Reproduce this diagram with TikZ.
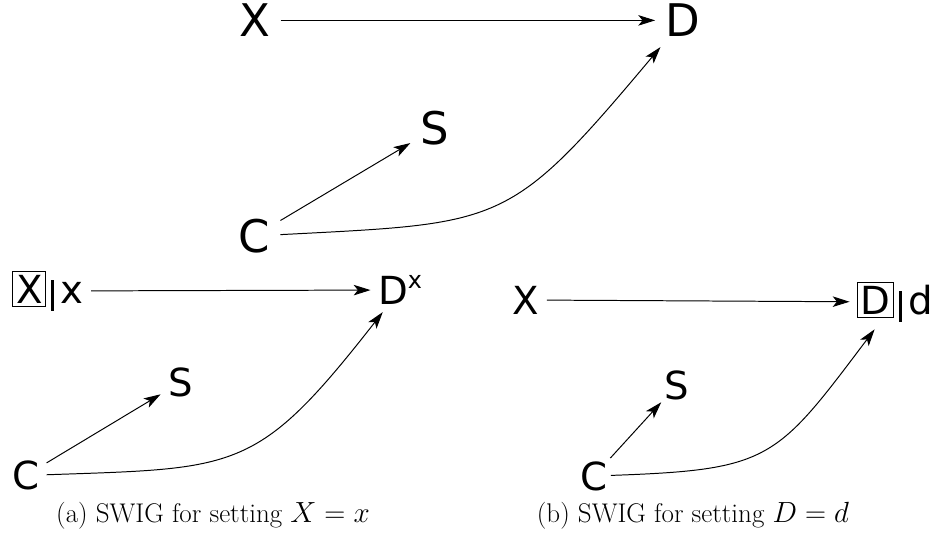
\documentclass[tikz,border=0pt]{standalone}
\usepackage{fontspec}
\newfontfamily\dejavu{DejaVu Sans}
\usepackage{tikz}
\usetikzlibrary{arrows.meta}

\begin{document}
\begin{tikzpicture}[>={Stealth[length=12pt,width=7.5pt,inset=3pt]},line width=0.7pt]
			\useasboundingbox (0,0) rectangle (23.3,13.45);
			\tikzset{
				bigvar/.style={font=\dejavu\fontsize{32}{38}\selectfont,inner sep=7pt},
				smallvar/.style={font=\dejavu\fontsize{27.5}{33}\selectfont,inner sep=5pt},
				capt/.style={font=\fontsize{19.2}{23}\selectfont,anchor=base}
			}
			\setlength{\fboxsep}{2pt}
			\setlength{\fboxrule}{0.6pt}
			\def\vbar{\hspace{3.5pt}\rule[-5.5pt]{1.9pt}{22pt}\hspace{5pt}}
			
			% original graph
			\node[bigvar] (X) at (6.375,12.94) {X};
			\node[bigvar] (D) at (17.07,12.94) {D};
			\node[bigvar] (S) at (10.875,10.24) {S};
			\node[bigvar] (C) at (6.36,7.55) {C};
			
			\draw[->] (X)--(D);
			\draw[->] (C)--(S);
			\draw[->] (C) to[out=3,in=230,out distance=5.6cm,in distance=5.9cm] (D);
			
			% (a) intervention on X
			\node[smallvar] (Xa) at (1.2,6.175) {\fbox{X}\vbar x};
			\node[smallvar] (Da) at (10.0,6.2) {D\raisebox{11.5pt}{\fontsize{17}{17}\selectfont x}};
			\node[smallvar] (Sa) at (4.51,3.89) {S};
			\node[smallvar] (Ca) at (0.64,1.5625) {C};
			
			\draw[->] (Xa)--(Da);
			\draw[->] (Ca)--(Sa);
			\draw[->] (Ca) to[out=2,in=232,out distance=4.8cm,in distance=5.1cm] (Da);
			
			\node[capt] (capa) at (5.325,0.4) {(a) SWIG for setting $X=x$};
			
			% (b) intervention on D
			\node[smallvar] (Xb) at (13.15,5.95) {X};
			\node[smallvar] (Db) at (22.38,5.9) {\fbox{D}\vbar d};
			\node[smallvar,inner sep=2pt] (Sb) at (16.92,3.82) {S};
			\node[smallvar,inner sep=2pt] (Cb) at (14.85,1.55) {C};
			
			\draw[->] (Xb)--(Db);
			\draw[->] (Cb)--(Sb);
			\draw[->] (Cb) to[out=2,in=233,out distance=4cm,in distance=4.1cm] (Db);
			
			\node[capt] (capb) at (17.325,0.4) {(b) SWIG for setting $D=d$};
\end{tikzpicture}
\end{document}
